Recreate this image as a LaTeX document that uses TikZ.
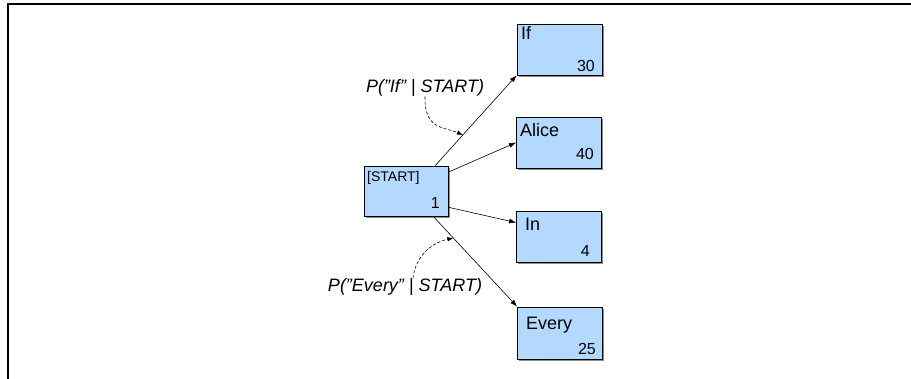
\documentclass[tikz,border=0pt]{standalone}
\usepackage{fontspec}
\setmainfont{Liberation Sans}
\usepackage{tikz}
\usetikzlibrary{arrows.meta, shadows}

\definecolor{boxblue}{RGB}{179,217,255}
\newcommand{\dq}{\symbol{34}}

\begin{document}
\begin{tikzpicture}[
		x=1pt, y=-1pt,
		% Style des boîtes de mots
		wordbox/.style={
			draw=black,
			fill=boxblue,
			line width=0.8pt,
			minimum width=85pt,
			minimum height=51pt,
			inner sep=0pt,
			drop shadow={shadow xshift=1.5pt, shadow yshift=-2pt, opacity=0.45, fill=black},
		},
		% Textes dans les boîtes
		wordtext/.style={font=\fontsize{18}{20}\selectfont, inner sep=0pt, anchor=north west},
		numtext/.style={font=\fontsize{16}{18}\selectfont, inner sep=0pt, anchor=base east},
		% Étiquettes de probabilité
		probtext/.style={font=\fontsize{18}{20}\selectfont\itshape, inner sep=0pt},
		edge/.style={-{Latex[length=7pt,width=5pt]}, line width=0.6pt},
		hint/.style={-{Latex[length=6pt,width=4.5pt]}, line width=0.6pt, dash pattern=on 3pt off 2pt},
		]
		\useasboundingbox (0,0) rectangle (911,379);
		
		% --- CADRE ---
		\draw[line width=2pt] (8,379) -- (8,4) -- (911,4);
		
		% --- BOÎTES ---
		\node[wordbox, minimum width=84pt, minimum height=50pt] (start) at (406,191) {};
		\node[wordbox] (if) at (559.5,49.5) {};
		\node[wordbox] (alice) at (559,142.5) {};
		\node[wordbox] (in) at (559,236.5) {};
		\node[wordbox, minimum height=52pt] (every) at (560,333) {};
		
		% --- TEXTES DES BOÎTES ---
		\node[wordtext, font=\fontsize{14}{16}\selectfont] (wstart) at (367,171) {[START]};
		\node[numtext] (nstart) at (440,209) {1};
		\node[wordtext] (wif) at (521,26) {If};
		\node[numtext] (nif) at (595,72) {30};
		\node[wordtext] (walice) at (520,123) {Alice};
		\node[numtext] (nalice) at (594,160) {40};
		\node[wordtext] (win) at (525,218) {In};
		\node[numtext] (nin) at (590,257) {4};
		\node[wordtext] (wevery) at (526,317) {Every};
		\node[numtext] (nevery) at (596,355) {25};
		
		% --- FLÈCHES ---
		\draw[edge] (start.41) -- (if.south west) coordinate[pos=0.34] (iftip);
		\draw[edge] (start.24) -- (alice.west);
		\draw[edge] (start.-21) -- (in.162);
		\draw[edge] (start.-43) -- (every.north west) coordinate[pos=0.24] (everytip);
		
		% --- ÉTIQUETTES ---
		\node[probtext] (ifprob) at (425,88) {P(\dq If\dq\ | START)};
		\node[probtext] (everyprob) at (405,287) {P(\dq Every\dq\ | START)};
		
		\draw[hint] (ifprob.south) .. controls (424,130) and (445,127) .. (iftip);
		\draw[hint] ([xshift=8pt]everyprob.north) .. controls (415,258) and (430,243) .. (everytip);
		
	\end{tikzpicture}
\end{document}
